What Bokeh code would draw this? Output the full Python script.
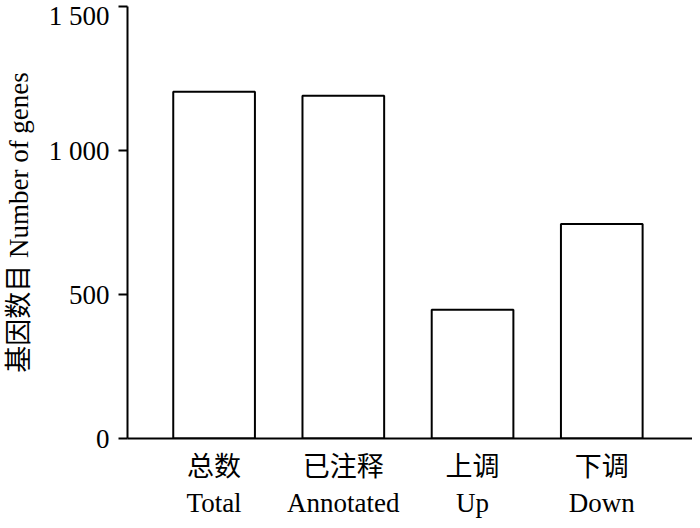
from bokeh.plotting import figure
from bokeh.models import FixedTicker, Range1d
from bokeh.embed import file_html
from bokeh.resources import INLINE

categories_cn = ["总数", "已注释", "上调", "下调"]
categories_en = ["Total", "Annotated", "Up", "Down"]
positions = [1, 2, 3, 4]
gene_counts = [1204, 1190, 447, 745]
y_ticks = [0, 500, 1000, 1500]
y_tick_labels = ["0", "500", "1 000", "1 500"]

FONT = "Liberation Serif, Noto Sans CJK SC"

p = figure(width=692, height=520, output_backend="svg", toolbar_location=None,
           x_range=Range1d(0.33, 4.702), y_range=Range1d(0, 1500),
           min_border_left=118, min_border_right=0, min_border_top=6, min_border_bottom=78)
p.outline_line_color = None
p.grid.visible = False
p.background_fill_color = "white"
p.border_fill_color = "white"

p.vbar(x=positions, top=gene_counts, width=0.632, bottom=0,
       fill_color="white", line_color="black", line_width=2)

# y axis
ya = p.yaxis[0]
ya.ticker = FixedTicker(ticks=y_ticks)
ya.major_label_overrides = {t: l for t, l in zip(y_ticks, y_tick_labels)}
ya.axis_line_width = 2
ya.axis_line_color = "black"
ya.major_tick_line_width = 2
ya.major_tick_line_color = "black"
ya.major_tick_out = 9
ya.major_tick_in = 0
ya.minor_tick_line_color = None
ya.major_label_text_font = FONT
ya.major_label_text_font_size = "27px"
ya.major_label_text_color = "black"
ya.major_label_standoff = 9
ya.axis_label = "基因数目 Number of genes"
ya.axis_label_text_font = FONT
ya.axis_label_text_font_size = "27px"
ya.axis_label_text_font_style = "normal"
ya.axis_label_text_color = "black"
ya.axis_label_standoff = 12

# x axis
xa = p.xaxis[0]
xa.ticker = FixedTicker(ticks=positions)
xa.major_label_overrides = {pos: f"{cn}\n{en}" for pos, cn, en in zip(positions, categories_cn, categories_en)}
xa.axis_line_width = 2
xa.axis_line_color = "black"
xa.major_tick_line_color = None
xa.major_tick_out = 0
xa.major_tick_in = 0
xa.minor_tick_line_color = None
xa.major_label_text_font = FONT
xa.major_label_text_font_size = "27px"
xa.major_label_text_color = "black"
xa.major_label_standoff = 13

open("out.html", "w").write(file_html(p, INLINE))
